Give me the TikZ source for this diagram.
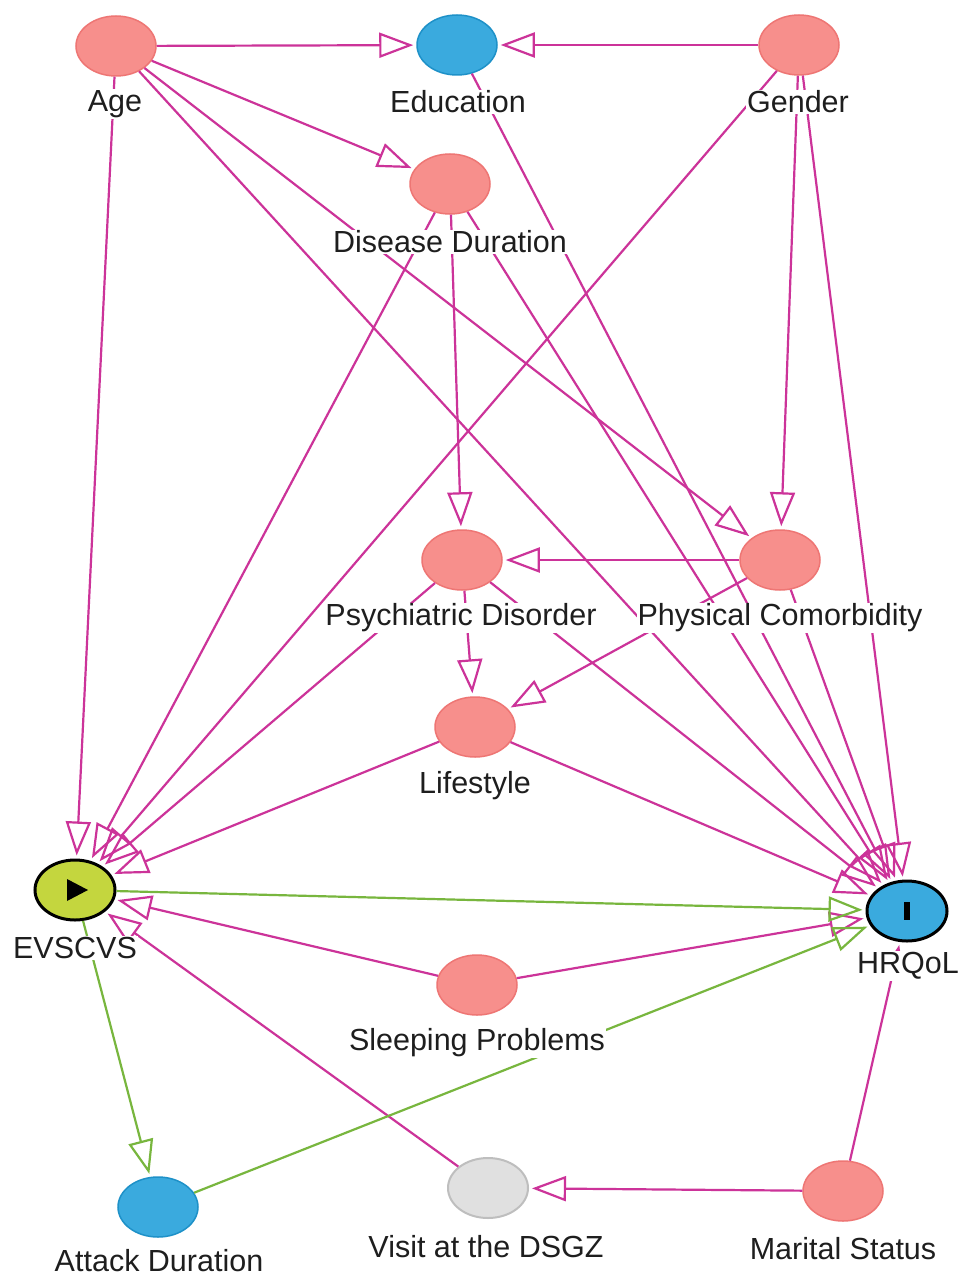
\documentclass[tikz,border=0pt]{standalone}
\usepackage{fontspec}
\setmainfont{Liberation Sans}
\usetikzlibrary{arrows.meta,shapes.geometric}
\definecolor{edgepink}{RGB}{204,51,153}
\definecolor{edgegreen}{RGB}{120,182,62}
\definecolor{nodepink}{RGB}{247,143,140}
\definecolor{nodepinkb}{RGB}{238,118,116}
\definecolor{nodeblue}{RGB}{58,170,222}
\definecolor{nodeblueb}{RGB}{30,145,200}
\definecolor{nodeexp}{RGB}{196,214,62}
\definecolor{nodegray}{RGB}{224,224,224}
\definecolor{nodegrayb}{RGB}{190,190,190}
\definecolor{labtext}{RGB}{30,30,30}
\begin{document}
\begin{tikzpicture}[x=1pt,y=-1pt,
  var/.style={ellipse, minimum width=80pt, minimum height=60pt, inner sep=0pt, line width=1.5pt},
  pinkvar/.style={var, fill=nodepink, draw=nodepinkb},
  bluevar/.style={var, fill=nodeblue, draw=nodeblueb},
  grayvar/.style={var, fill=nodegray, draw=nodegrayb, line width=2pt},
  expvar/.style={var, fill=nodeexp, draw=black, line width=3pt},
  outvar/.style={var, fill=nodeblue, draw=black, line width=3pt},
  lab/.style={fill=white, inner sep=1pt, text=labtext, font=\fontsize{30.5}{36}\selectfont},
  pe/.style={draw=edgepink, line width=2.2pt, -{Triangle[open,length=34pt,width=25pt]}, shorten >=3pt},
  ge/.style={draw=edgegreen, line width=2.2pt, -{Triangle[open,length=34pt,width=25pt]}, shorten >=3pt}
]
\fill[white] (0,0) rectangle (963,1279);
\path[use as bounding box] (0,0) rectangle (963,1279);

% variables
\node[pinkvar] (age) at (116,46) {};
\node[bluevar] (edu) at (457,45) {};
\node[pinkvar] (gen) at (799,45) {};
\node[pinkvar] (dd) at (450,184) {};
\node[pinkvar] (psy) at (462,560) {};
\node[pinkvar] (pc) at (780,560) {};
\node[pinkvar] (life) at (475,727) {};
\node[expvar] (evs) at (75,890) {};
\node[outvar] (hrq) at (907,911) {};
\node[pinkvar] (sleep) at (477,985) {};
\node[bluevar] (att) at (158,1207) {};
\node[grayvar] (visit) at (488,1188) {};
\node[pinkvar] (mar) at (843,1191) {};

% symbols
\fill[black] (67,879) -- (67,901) -- (88,890) -- cycle;
\fill[black] (904,902) rectangle (910,920);

% biasing edges
\draw[pe] (age) -- (edu);
\draw[pe] (gen) -- (edu);
\draw[pe] (age) -- (dd);
\draw[pe] (age) -- (evs);
\draw[pe] (age) -- (pc);
\draw[pe] (age) -- (hrq);
\draw[pe] (edu) -- (hrq);
\draw[pe] (gen) -- (evs);
\draw[pe] (gen) -- (pc);
\draw[pe] (gen) -- (hrq);
\draw[pe] (dd) -- (evs);
\draw[pe] (dd) -- (psy);
\draw[pe] (dd) -- (hrq);
\draw[pe] (pc) -- (psy);
\draw[pe] (pc) -- (life);
\draw[pe] (pc) -- (hrq);
\draw[pe] (psy) -- (life);
\draw[pe] (psy) -- (evs);
\draw[pe] (psy) -- (hrq);
\draw[pe] (life) -- (evs);
\draw[pe] (life) -- (hrq);
\draw[pe] (sleep) -- (evs);
\draw[pe] (sleep) -- (hrq);
\draw[pe] (visit) -- (evs);
\draw[pe] (mar) -- (visit);
\draw[pe] (mar) -- (hrq);

% causal edges
\draw[ge] (evs) -- (hrq);
\draw[ge] (evs) -- (att);
\draw[ge] (att) -- (hrq);

% labels
\node[lab] (agel) at (115,104) {Age};
\node[lab] (edul) at (458,102) {Education};
\node[lab] (genl) at (798,102) {Gender};
\node[lab] (ddl) at (450,242) {Disease Duration};
\node[lab] (psyl) at (461,618) {Psychiatric Disorder};
\node[lab] (pcl) at (780,618) {Physical Comorbidity};
\node[lab] (lifel) at (475,786) {Lifestyle};
\node[lab] (evsl) at (75,948) {EVSCVS};
\node[lab] (hrql) at (908,966) {HRQoL};
\node[lab] (sleepl) at (477,1043) {Sleeping Problems};
\node[lab] (attl) at (159,1261) {Attack Duration};
\node[lab] (visitl) at (486,1247) {Visit at the DSGZ};
\node[lab] (marl) at (843,1249) {Marital Status};
\end{tikzpicture}
\end{document}
